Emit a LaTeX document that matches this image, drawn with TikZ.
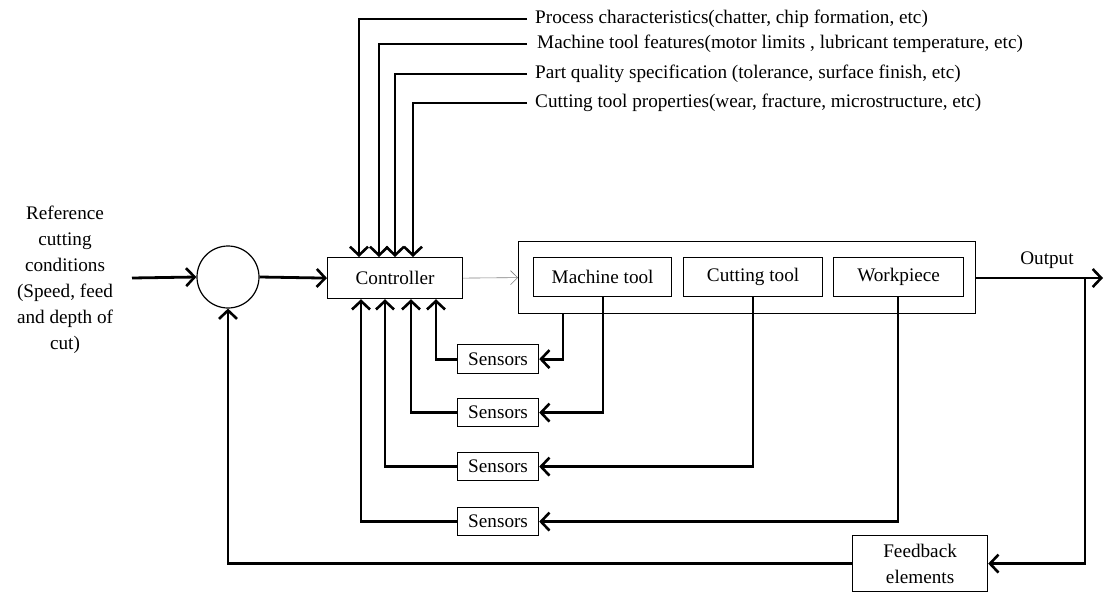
\documentclass[tikz,border=0pt]{standalone}
\usepackage{fontspec}
\setmainfont{Liberation Serif}
\usetikzlibrary{arrows.meta,calc}
\begin{document}
\begin{tikzpicture}[x=1pt,y=-1pt,
  font=\fontsize{19.2}{26}\selectfont,
  box/.style={draw,line width=1.2pt,inner sep=0pt,anchor=north west},
  sig/.style={line width=2.8pt,-{Straight Barb[length=8.5pt,width=18pt,line width=2.6pt]}},
  lbl/.style={anchor=west,inner sep=0pt}]
\useasboundingbox (0,0) rectangle (1104,592);

% summing junction and reference input
\node[draw,circle,line width=1.2pt,minimum size=62pt,inner sep=0pt] (sum) at (228,277) {};
\node[align=center,inner sep=0pt] (ref) at (65,280) {Reference\\cutting\\conditions\\(Speed, feed\\and depth of\\cut)};
\coordinate (refin) at (132,278);
\draw[sig] (refin) -- (sum.west);

% controller
\node[box,minimum width=135pt,minimum height=41pt] (ctrl) at (327,257) {};
\node at (ctrl.center) {Controller};
\draw[sig] (sum.east) -- (ctrl.west);

% process block
\node[box,minimum width=457pt,minimum height=72pt] (proc) at (518,241) {};
\draw[line width=0.6pt,draw=gray,-{Straight Barb[length=7pt,width=14pt,line width=0.6pt]}] (ctrl.east) -- (proc.west);
\node[box,minimum width=138pt,minimum height=39pt] (mt) at (533,257) {};
\node at (mt.center) {Machine tool};
\node[box,minimum width=139pt,minimum height=39pt] (ct) at (683,257) {};
\node at (ct.center) {Cutting tool};
\node[box,minimum width=130pt,minimum height=39pt] (wp) at (833,257) {};
\node at (wp.center) {Workpiece};

% output
\coordinate (out) at (1103,278);
\draw[sig] (proc.east |- 0,278) -- (out);
\node[inner sep=0pt] (outlbl) at (1047,260) {Output};

% top inputs to the controller
\node[lbl] (p1) at (535,19) {Process characteristics(chatter, chip formation, etc)};
\node[lbl] (p2) at (537,44) {Machine tool features(motor limits , lubricant temperature, etc)};
\node[lbl] (p3) at (535,74) {Part quality specification (tolerance, surface finish, etc)};
\node[lbl] (p4) at (535,103) {Cutting tool properties(wear, fracture, microstructure, etc)};
\draw[sig] ($(p1.west)+(-8,0)$) -| (ctrl.north -| 359,0);
\draw[sig] ($(p2.west)+(-10,0)$) -| (ctrl.north -| 379,0);
\draw[sig] ($(p3.west)+(-8,0)$) -| (ctrl.north -| 395,0);
\draw[sig] ($(p4.west)+(-8,0)$) -| (ctrl.north -| 413,0);

% sensors
\node[box,minimum width=81pt,minimum height=29pt] (s1) at (457,344) {};
\node at (s1.center) {Sensors};
\node[box,minimum width=81pt,minimum height=28pt] (s2) at (457,398) {};
\node at (s2.center) {Sensors};
\node[box,minimum width=81pt,minimum height=28pt] (s3) at (457,452) {};
\node at (s3.center) {Sensors};
\node[box,minimum width=81pt,minimum height=28pt] (s4) at (457,507) {};
\node at (s4.center) {Sensors};

\draw[sig] (proc.south -| 563,0) |- (s1.east);
\draw[sig] (mt.south -| 603,0) |- (s2.east);
\draw[sig] (ct.south -| 753,0) |- (s3.east);
\draw[sig] (wp.south -| 898,0) |- (s4.east);

\draw[sig] (s1.west) -| (ctrl.south -| 436,0);
\draw[sig] (s2.west) -| (ctrl.south -| 411,0);
\draw[sig] (s3.west) -| (ctrl.south -| 385,0);
\draw[sig] (s4.west) -| (ctrl.south -| 361,0);

% feedback path
\node[box,minimum width=135pt,minimum height=56pt] (fb) at (852,535) {};
\node[align=center,inner sep=0pt] at (fb.center) {Feedback\\elements};
\coordinate (tap) at (1085,278);
\draw[sig] (tap) |- (fb.east);
\draw[sig] (fb.west) -| (sum.south);
\end{tikzpicture}
\end{document}
